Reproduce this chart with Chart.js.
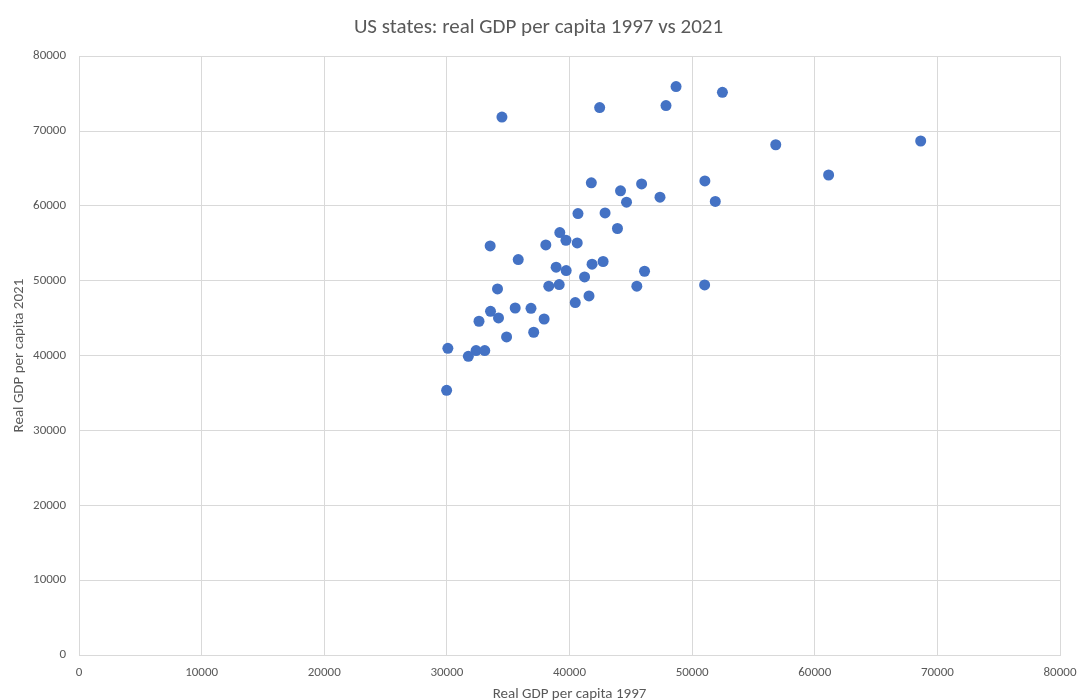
<!DOCTYPE html>
<html>
<head>
<meta charset="utf-8">
<script src="https://cdn.jsdelivr.net/npm/chart.js@4.4.1/dist/chart.umd.min.js"></script>
<style>
  html, body { margin: 0; padding: 0; background: #fff; }
  #wrap { width: 1077px; height: 700px; }
</style>
</head>
<body>
<div id="wrap"><canvas id="chart-gdp" width="1077" height="700"></canvas></div>
<script>
// real GDP per capita by state
const gdp1997 = [
  41780, 44160, 45880, 44650, 47380, 51040, 51890, 40690, 42900, 43910,
  39210, 39710, 40630, 38070, 33530, 35820, 41840, 42740, 38910, 39730,
  46120, 41230, 34130, 38310, 39160, 45490, 51020, 41590, 40470, 35570,
  36860, 33560, 34210, 32620, 37930, 37080, 34870, 30080, 32380, 33090,
  31750, 29980, 34490, 42460, 47870, 48690, 52470, 56820, 68640, 61130
];
const gdp2021 = [
  63080, 62010, 62940, 60500, 61160, 63340, 60590, 58980, 59060, 56980,
  56440, 55410, 55050, 54790, 54650, 52830, 52210, 52570, 51810, 51360,
  51270, 50510, 48900, 49270, 49490, 49270, 49440, 47970, 47090, 46360,
  46320, 45920, 45030, 44590, 44890, 43120, 42490, 40980, 40670, 40670,
  39910, 35360, 71870, 73130, 73400, 75940, 75170, 68170, 68670, 64130
];
const xTickMax = 80000;
const yTickMax = 80000;

const points = gdp1997.map((x, i) => ({ x: x, y: gdp2021[i] }));

const FONT = "Carlito, Lato, 'Liberation Sans', sans-serif";
const TEXT = "#595959";
const GRID = "#d9d9d9";

const ctx = document.getElementById("chart-gdp").getContext("2d");

new Chart(ctx, {
  type: "scatter",
  data: {
    datasets: [{
      label: "States",
      data: points,
      backgroundColor: "#4472c4",
      borderColor: "#4472c4",
      borderWidth: 0,
      pointRadius: 5.5,
      pointHoverRadius: 6
    }]
  },
  options: {
    responsive: false,
    animation: false,
    layout: { padding: 0 },
    plugins: {
      legend: { display: false },
      tooltip: { enabled: false },
      title: {
        display: true,
        text: "US states: real GDP per capita 1997 vs 2021",
        color: TEXT,
        font: { family: FONT, size: 21, weight: "normal" },
        padding: { top: 15, bottom: 16 }
      }
    },
    scales: {
      x: {
        type: "linear",
        min: 0,
        max: xTickMax,
        ticks: {
          stepSize: 10000,
          color: TEXT,
          padding: 10,
          maxRotation: 0,
          font: { family: FONT, size: 13 },
          callback: (v) => String(v)
        },
        grid: { color: GRID, drawTicks: false },
        border: { color: GRID },
        title: {
          display: true,
          text: "Real GDP per capita 1997",
          color: TEXT,
          font: { family: FONT, size: 15 },
          padding: { top: 0, bottom: -3 }
        },
        afterFit: (scale) => {
          scale.height = 45;
          scale.paddingRight = 17;
        }
      },
      y: {
        type: "linear",
        min: 0,
        max: yTickMax,
        ticks: {
          stepSize: 10000,
          color: TEXT,
          padding: 13,
          font: { family: FONT, size: 13 },
          callback: (v) => String(v)
        },
        grid: { color: GRID, drawTicks: false },
        border: { color: GRID },
        title: {
          display: true,
          text: "Real GDP per capita 2021",
          color: TEXT,
          font: { family: FONT, size: 15 },
          padding: { top: 10, bottom: 0 }
        },
        afterFit: (scale) => { scale.width = 79; }
      }
    }
  }
});
</script>
</body>
</html>
